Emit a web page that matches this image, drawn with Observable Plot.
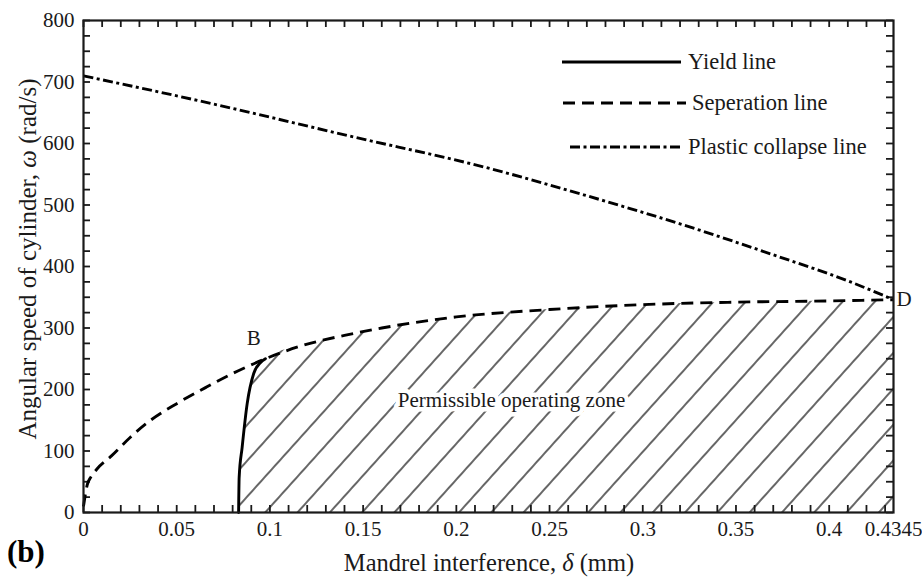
<!DOCTYPE html>
<html><head><meta charset="utf-8">
<script src="https://cdn.jsdelivr.net/npm/d3@7"></script>
<script src="https://cdn.jsdelivr.net/npm/@observablehq/plot@0.6"></script>
<style>body{margin:0;background:#fff;} #chart{position:relative;width:922px;height:581px;} #chart svg text{font-family:"Liberation Serif","Times New Roman",serif;}</style>
</head><body><div id="chart"></div>
<script>
// ---- data ----
const yieldX = [0.0832, 0.0835, 0.0851, 0.0878, 0.0913, 0.0950, 0.0976];
const yieldY = [0, 57, 106, 177, 226, 244, 250];

const sepX = [0, 0.002, 0.004, 0.007, 0.015, 0.025, 0.036, 0.050, 0.066, 0.080, 0.0976, 0.118, 0.140, 0.160, 0.200, 0.250, 0.300, 0.350, 0.400, 0.4345];
const sepY = [10, 45, 58, 70, 92, 122, 150, 177, 204, 226, 250, 272, 288, 300, 318, 330, 338, 342, 344, 346];

const plasticX = [0, 0.070, 0.1415, 0.2184, 0.2666, 0.3203, 0.3739, 0.4097, 0.4345];
const plasticY = [710, 664, 613, 559, 518, 469, 415, 377, 346];

const xTickVals = [0, 0.05, 0.1, 0.15, 0.2, 0.25, 0.3, 0.35, 0.4, 0.4345];
const xTickLabels = ["0", "0.05", "0.1", "0.15", "0.2", "0.25", "0.3", "0.35", "0.4", "0.4345"];
const yTickVals = [0, 100, 200, 300, 400, 500, 600, 700, 800];
const xMinor = d3.range(0, 44).map(i => i / 100);
const yMinor = d3.range(0, 33).map(i => i * 25);

const pointNames = ["B", "D"];
const pointX = [0.0913, 0.4345];
const pointY = [284, 346];
const zoneText = ["Permissible operating zone"];
const zoneX = [0.2296];
const zoneY = [182];

const seriesNames = ["Yield line", "Seperation line", "Plastic collapse line"];
const xTitle = ["Mandrel interference, ", "δ", " (mm)"];
const yTitle = ["Angular speed of cylinder, ", "ω", " (rad/s)"];
const panelTag = "(b)";

// ---- build ----
const toPts = (xs, ys) => xs.map((x, i) => ({x, y: ys[i]}));
const yieldData = toPts(yieldX, yieldY);
const sepData = toPts(sepX, sepY);
const plasticData = toPts(plasticX, plasticY);
const hatchData = [...yieldData, ...sepData.filter(d => d.x > yieldX[yieldX.length - 1])];
const labelData = pointNames.map((t, i) => ({t, x: pointX[i], y: pointY[i]}));
const zoneData = zoneText.map((t, i) => ({t, x: zoneX[i], y: zoneY[i]}));

const W = 922, H = 581, mL = 83, mR = 29, mT = 20, mB = 69;
const innerW = W - mL - mR, innerH = H - mT - mB, TL = 7;
const FF = "Liberation Serif";
const FONT = "'Liberation Serif', 'Times New Roman', serif";
const INK = "#1a1a1a";
const dashSep = "12,7", dashPl = "10,3.5,3,3.5";
const LW = 2.9;

const chart = Plot.plot({
  width: W, height: H,
  marginLeft: mL, marginRight: mR, marginTop: mT, marginBottom: mB,
  style: {fontFamily: FONT, fontSize: "21px", color: INK, background: "#fff", overflow: "visible"},
  x: {domain: [0, 0.4345]},
  y: {domain: [0, 800]},
  marks: [
    Plot.areaY(hatchData, {x: "x", y: "y", fill: "url(#hatch)", curve: "monotone-x"}),
    Plot.tickX(xMinor, {x: d => d, insetTop: innerH - TL, stroke: INK, strokeWidth: 1.8}),
    Plot.tickX(xMinor, {x: d => d, insetBottom: innerH - TL, stroke: INK, strokeWidth: 1.8}),
    Plot.tickY(yMinor, {y: d => d, insetRight: innerW - TL, stroke: INK, strokeWidth: 1.8}),
    Plot.tickY(yMinor, {y: d => d, insetLeft: innerW - TL, stroke: INK, strokeWidth: 1.8}),
    Plot.text(zoneData, {x: "x", y: "y", text: "t", fontSize: 21, fontFamily: FF, fill: INK, stroke: "white", strokeWidth: 9, paintOrder: "stroke"}),
    Plot.line(sepData, {x: "x", y: "y", stroke: "#000", strokeWidth: LW, strokeDasharray: dashSep, strokeLinecap: "butt", curve: "monotone-x"}),
    Plot.line(plasticData, {x: "x", y: "y", stroke: "#000", strokeWidth: LW, strokeDasharray: dashPl, strokeLinecap: "butt", curve: "monotone-x"}),
    Plot.line(yieldData, {x: "x", y: "y", stroke: "#000", strokeWidth: LW, curve: "monotone-x"}),
    Plot.text(labelData.filter(d => d.t === "B"), {x: "x", y: "y", text: "t", fontSize: 21, fontFamily: FF, fill: INK}),
    Plot.text(labelData.filter(d => d.t === "D"), {x: "x", y: "y", text: "t", fontSize: 21, fontFamily: FF, fill: INK, textAnchor: "start", dx: 3}),
    Plot.axisX({ticks: xTickVals, tickSize: 0, tickPadding: 9, label: null, fontSize: 21, fontFamily: FF,
      tickFormat: d => xTickLabels[xTickVals.indexOf(d)]}),
    Plot.axisY({ticks: yTickVals, tickSize: 0, tickPadding: 9, label: null, fontSize: 21, fontFamily: FF}),
    Plot.frame({stroke: INK, strokeWidth: 2.2})
  ]
});

const svg = d3.select(chart);
svg.insert("defs", ":first-child").html(
  `<pattern id="hatch" patternUnits="userSpaceOnUse" width="24" height="24" patternTransform="rotate(42)">
     <line x1="12" y1="-2" x2="12" y2="26" stroke="#000" stroke-width="1.2"/>
   </pattern>`);

// legend (inside plot, top right)
const lg = svg.append("g").attr("font-family", FONT).attr("font-size", 22.5).attr("fill", INK)
  .attr("text-anchor", "start");
const legendRows = [
  {name: seriesNames[0], dash: null, x1: 562, x2: 681, y: 62, tx: 688},
  {name: seriesNames[1], dash: dashSep, x1: 563, x2: 686, y: 103, tx: 692},
  {name: seriesNames[2], dash: dashPl, x1: 570, x2: 681, y: 147, tx: 688}
];
legendRows.forEach(r => {
  lg.append("line").attr("x1", r.x1).attr("x2", r.x2).attr("y1", r.y).attr("y2", r.y)
    .attr("stroke", "#000").attr("stroke-width", LW).attr("stroke-linecap", "butt")
    .attr("stroke-dasharray", r.dash);
  lg.append("text").attr("x", r.tx).attr("y", r.y).attr("dy", "0.32em").attr("text-anchor", "start").text(r.name);
});

// axis titles
const tx = svg.append("text").attr("font-family", FONT).attr("font-size", 24.5).attr("fill", INK)
  .attr("text-anchor", "middle").attr("x", 489).attr("y", 571);
tx.append("tspan").text(xTitle[0]);
tx.append("tspan").attr("font-style", "italic").text(xTitle[1]);
tx.append("tspan").text(xTitle[2]);

const ty = svg.append("text").attr("font-family", FONT).attr("font-size", 25).attr("fill", INK)
  .attr("text-anchor", "middle").attr("transform", `translate(36,259) rotate(-90)`);
ty.append("tspan").text(yTitle[0]);
ty.append("tspan").attr("font-style", "italic").text(yTitle[1]);
ty.append("tspan").text(yTitle[2]);

svg.append("text").attr("font-family", FONT).attr("font-size", 31).attr("font-weight", "bold")
  .attr("text-anchor", "start").attr("fill", "#000").attr("x", 7).attr("y", 562).text(panelTag);

document.getElementById("chart").appendChild(chart);
</script>
</body></html>
